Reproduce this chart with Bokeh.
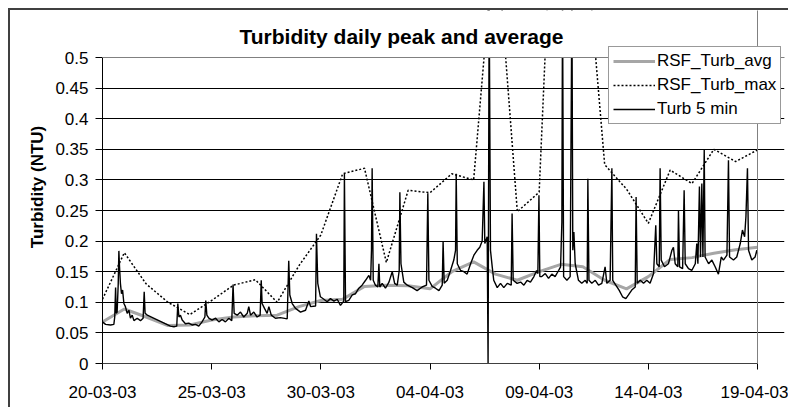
import datetime as dt
from bokeh.plotting import figure
from bokeh.models import (FixedTicker, DatetimeTickFormatter, Legend, LegendItem,
                          Range1d, ColumnDataSource, Grid, BoxAnnotation, Label)
from bokeh.embed import file_html
from bokeh.resources import INLINE

# ---------------- data ----------------
start_date = dt.datetime(2003, 3, 20)

# daily series: day offset from 20-03-03
daily_day = list(range(31))
avg_turb = [0.068, 0.089, 0.076, 0.062, 0.063, 0.071, 0.076, 0.078, 0.079, 0.093,
            0.103, 0.105, 0.126, 0.128, 0.127, 0.122, 0.150, 0.166, 0.146, 0.136,
            0.150, 0.162, 0.158, 0.136, 0.122, 0.142, 0.170, 0.173, 0.180, 0.186,
            0.190]
max_turb = [0.105, 0.181, 0.130, 0.100, 0.080, 0.103, 0.128, 0.137, 0.100, 0.160,
            0.210, 0.310, 0.319, 0.165, 0.283, 0.279, 0.310, 0.300, 0.720, 0.248,
            0.280, 1.100, 0.750, 0.325, 0.285, 0.229, 0.316, 0.294, 0.350, 0.330,
            0.349]

# 5-minute series (day offset, NTU), sampled from the trace
turb5_day = [
    0.00, 0.14, 0.37, 0.52, 0.56, 0.60, 0.63, 0.67, 0.72, 0.75, 0.78, 0.82, 0.87, 0.92,
    0.98, 1.05, 1.13, 1.21, 1.28, 1.36, 1.44, 1.59, 1.74, 1.86, 1.91, 1.95, 2.05,
    3.11, 3.27, 3.40, 3.45, 3.50, 3.57, 3.65, 3.80, 3.95, 4.10, 4.26, 4.41, 4.56,
    4.69, 4.73, 4.78, 4.87, 5.02, 5.18, 5.33, 5.48, 5.63, 5.79, 5.92, 5.98, 6.03,
    6.17, 6.32, 6.47, 6.63, 6.70, 6.78, 6.93, 7.08, 7.22, 7.27, 7.31, 7.42, 7.54,
    7.62, 7.73, 7.92, 8.15, 8.46, 8.53, 8.58, 8.69, 8.84, 9.07, 9.30, 9.45, 9.53,
    9.76, 9.80, 9.86, 9.98,
    10.14, 10.29, 10.44, 10.60, 10.75, 10.90, 11.05, 11.08, 11.13, 11.28, 11.44,
    11.59, 11.74, 11.89, 12.05, 12.20, 12.28, 12.32, 12.35, 12.40, 12.50, 12.61,
    12.66, 12.70, 12.81, 12.96, 13.12, 13.27, 13.38, 13.50, 13.59, 13.62, 13.67,
    13.80, 13.96, 14.19, 14.41, 14.64, 14.84, 14.90, 14.95, 15.10, 15.25, 15.41,
    15.56, 15.60, 15.65, 15.79, 15.94, 16.09, 16.17, 16.20, 16.25, 16.40, 16.55,
    16.70, 16.86, 17.01, 17.16, 17.28, 17.39, 17.47, 17.51, 17.62, 17.66, 17.71,
    17.77, 17.85, 17.92, 18.08, 18.23, 18.38, 18.54, 18.72, 18.76, 18.81, 18.99,
    19.15, 19.30, 19.45, 19.60, 19.76, 19.88, 19.94, 19.99, 20.03,
    20.12, 20.28, 20.43, 20.58, 20.73, 20.89, 20.98, 21.04, 21.07, 21.12, 21.27,
    21.42, 21.50, 21.54, 21.59, 21.65, 21.80, 21.95, 22.11, 22.20, 22.23, 22.28,
    22.41, 22.57, 22.72, 22.87, 23.02, 23.10, 23.25, 23.33, 23.37, 23.51, 23.66,
    23.82, 23.97, 24.09, 24.24, 24.40, 24.44, 24.49, 24.63, 24.78, 24.93, 25.08,
    25.24, 25.34, 25.39, 25.50, 25.54, 25.59, 25.74, 25.92, 26.08, 26.15, 26.23,
    26.35, 26.38, 26.43, 26.57, 26.64, 26.69, 26.84, 26.99, 27.15, 27.22, 27.27,
    27.34, 27.39, 27.45, 27.50, 27.56, 27.60, 27.76, 27.91, 28.06, 28.21, 28.34,
    28.44, 28.60, 28.67, 28.72, 28.90, 29.05, 29.21, 29.31, 29.41, 29.47, 29.54,
    29.59, 29.74, 29.89, 29.97, 30.00,
]
turb5_val = [
    0.068, 0.064, 0.063, 0.064, 0.076, 0.124, 0.082, 0.084, 0.130, 0.184, 0.158, 0.131, 0.114, 0.120,
    0.098, 0.093, 0.082, 0.087, 0.074, 0.079, 0.070, 0.074, 0.070, 0.074, 0.117, 0.082, 0.079,
    0.061, 0.060, 0.061, 0.098, 0.076, 0.079, 0.071, 0.065, 0.066, 0.063, 0.064, 0.061, 0.068,
    0.076, 0.103, 0.079, 0.074, 0.071, 0.074, 0.068, 0.072, 0.068, 0.074, 0.070, 0.129, 0.082,
    0.079, 0.084, 0.076, 0.082, 0.093, 0.079, 0.084, 0.076, 0.079, 0.136, 0.098, 0.090, 0.082,
    0.093, 0.079, 0.074, 0.075, 0.073, 0.168, 0.112, 0.098, 0.090, 0.084, 0.087, 0.102, 0.093,
    0.094, 0.212, 0.131, 0.109,
    0.105, 0.101, 0.106, 0.102, 0.105, 0.095, 0.102, 0.310, 0.101, 0.103, 0.112,
    0.114, 0.123, 0.128, 0.136, 0.144, 0.136, 0.185, 0.319, 0.136, 0.128, 0.125,
    0.163, 0.125, 0.131, 0.123, 0.133, 0.150, 0.131, 0.128, 0.152, 0.280, 0.163,
    0.133, 0.128, 0.124, 0.119, 0.125, 0.128, 0.278, 0.136, 0.126, 0.123, 0.119,
    0.128, 0.199, 0.131, 0.136, 0.152, 0.169, 0.185, 0.310, 0.163, 0.152, 0.150,
    0.146, 0.163, 0.177, 0.185, 0.190, 0.200, 0.297, 0.196, 0.207, 0.000, 0.600,
    0.185, 0.158, 0.136, 0.124, 0.131, 0.124, 0.131, 0.128, 0.245, 0.136, 0.131,
    0.133, 0.128, 0.136, 0.133, 0.142, 0.152, 0.147, 0.275, 0.142,
    0.142, 0.147, 0.139, 0.146, 0.142, 0.152, 0.158, 0.231, 0.600, 0.142, 0.136,
    0.142, 0.600, 0.185, 0.215, 0.163, 0.136, 0.131, 0.136, 0.131, 0.302, 0.136,
    0.131, 0.136, 0.128, 0.131, 0.158, 0.131, 0.136, 0.319, 0.136, 0.128, 0.120,
    0.109, 0.106, 0.112, 0.120, 0.125, 0.272, 0.131, 0.136, 0.131, 0.136, 0.131,
    0.147, 0.226, 0.163, 0.158, 0.319, 0.169, 0.158, 0.163, 0.185, 0.190, 0.163,
    0.158, 0.250, 0.158, 0.155, 0.283, 0.163, 0.155, 0.152, 0.163, 0.196, 0.163,
    0.289, 0.174, 0.294, 0.174, 0.349, 0.174, 0.163, 0.169, 0.158, 0.146, 0.174,
    0.169, 0.177, 0.332, 0.174, 0.169, 0.174, 0.196, 0.218, 0.207, 0.240, 0.319,
    0.185, 0.169, 0.174, 0.185, 0.180,
]

x_first_day, x_last_day = 0, 30
x_tick_days = [0, 5, 10, 15, 20, 25, 30]
y_ticks = [0, 0.05, 0.1, 0.15, 0.2, 0.25, 0.3, 0.35, 0.4, 0.45, 0.5]
y_tick_labels = ["0", "0.05", "0.1", "0.15", "0.2", "0.25", "0.3", "0.35", "0.4", "0.45", "0.5"]

title_text = "Turbidity daily peak and average"
y_label = "Turbidity (NTU)"
series_names = ["RSF_Turb_avg", "RSF_Turb_max", "Turb 5 min"]

# ---------------- layout constants (pixels) ----------------
FONT = "Liberation Sans"
W, H = 780, 399
BL, BR, BT, BB = 92, 6, 0, 46
PLOT_W, PLOT_H = 655, 306          # pixel size of the 0..30 day / 0..0.5 area
FRAME_W, FRAME_H = W - BL - BR, H - BT - BB
TITLE_CX, TITLE_BASE = 299, 327    # title centre / baseline, from plot-area bottom-left
LEG_X, LEG_Y = 506, 239            # legend bottom-left, from plot-area bottom-left

px_per_day = PLOT_W / (x_last_day - x_first_day)
px_per_unit = PLOT_H / (y_ticks[-1] - y_ticks[0])


def to_dates(days):
    return [start_date + dt.timedelta(days=d) for d in days]


def to_ms(d):
    return (start_date + dt.timedelta(days=d) - dt.datetime(1970, 1, 1)).total_seconds() * 1000.0


p = figure(width=W, height=H, output_backend="svg", toolbar_location=None, title=None,
           x_axis_type="datetime",
           x_range=Range1d(to_ms(x_first_day), to_ms(x_first_day + FRAME_W / px_per_day)),
           y_range=Range1d(y_ticks[0], y_ticks[0] + FRAME_H / px_per_unit),
           min_border_left=BL, min_border_right=BR, min_border_top=BT, min_border_bottom=BB)
p.styles = {"margin-left": "8px", "margin-top": "8px",
            "border-left": "2px solid #404040", "border-top": "2px solid #404040"}

src_avg = ColumnDataSource(dict(x=to_dates(daily_day), y=avg_turb))
src_max = ColumnDataSource(dict(x=to_dates(daily_day), y=max_turb))
src_5 = ColumnDataSource(dict(x=to_dates(turb5_day), y=turb5_val))

r_avg = p.line("x", "y", source=src_avg, line_color="#a6a6a6", line_width=3)
r_max = p.line("x", "y", source=src_max, line_color="black", line_width=1.5, line_dash="2 2")
r_5 = p.line("x", "y", source=src_5, line_color="black", line_width=1.4)

# axes
x_bounds = (to_ms(x_first_day), to_ms(x_last_day))
y_bounds = (y_ticks[0], y_ticks[-1])
p.xaxis.ticker = FixedTicker(ticks=[to_ms(d) for d in x_tick_days])
fmt = "%d-%m-%y"
p.xaxis.formatter = DatetimeTickFormatter(days=fmt, months=fmt, years=fmt, hours=fmt,
                                          hourmin=fmt, minutes=fmt, minsec=fmt,
                                          seconds=fmt, milliseconds=fmt, microseconds=fmt)
p.xaxis.bounds = x_bounds
p.yaxis.ticker = FixedTicker(ticks=y_ticks)
p.yaxis.major_label_overrides = dict(zip(y_ticks, y_tick_labels))
p.yaxis.bounds = y_bounds
p.yaxis.axis_label = y_label
p.yaxis.axis_label_text_font = FONT
p.yaxis.axis_label_text_font_size = "17px"
p.yaxis.axis_label_text_font_style = "bold"
p.yaxis.axis_label_text_color = "black"
p.yaxis.axis_label_standoff = 5

for ax in (p.xaxis[0], p.yaxis[0]):
    ax.major_label_text_font = FONT
    ax.major_label_text_font_size = "17px"
    ax.major_label_text_color = "black"
    ax.minor_tick_line_color = None
    ax.major_tick_in = 0
    ax.major_tick_line_color = "black"
p.yaxis.major_tick_out = 7
p.yaxis.major_label_standoff = 7
p.yaxis.axis_line_color = "black"
p.xaxis.major_tick_out = 6
p.xaxis.major_label_standoff = 16
p.xaxis.axis_line_color = "#404040"

# gridlines limited to the plot area
p.xgrid.grid_line_color = None
p.ygrid.ticker = FixedTicker(ticks=y_ticks[1:-1])
p.ygrid.grid_line_color = "black"
p.ygrid.grid_line_width = 1
p.ygrid.bounds = x_bounds
p.outline_line_color = None
p.background_fill_color = "white"
p.border_fill_color = "white"

# anything above the top of the value axis is hidden, as in the original
p.add_layout(BoxAnnotation(bottom=y_ticks[-1], fill_color="white", fill_alpha=1,
                           line_color=None))
# plot-area border (top and right), drawn on top
p.add_layout(Grid(dimension=1, ticker=FixedTicker(ticks=[y_ticks[-1]]), bounds=x_bounds,
                  grid_line_color="#808080", grid_line_width=1, level="overlay"))
p.add_layout(Grid(dimension=0, ticker=FixedTicker(ticks=[to_ms(x_last_day)]), bounds=y_bounds,
                  grid_line_color="#808080", grid_line_width=1, level="overlay"))

p.add_layout(Label(x=to_ms(x_first_day + TITLE_CX / px_per_day),
                   y=y_ticks[0] + TITLE_BASE / px_per_unit,
                   text=title_text, text_align="center", text_baseline="alphabetic",
                   text_font=FONT, text_font_size="21px", text_font_style="bold",
                   text_color="black"))

legend = Legend(items=[LegendItem(label=series_names[0], renderers=[r_avg]),
                       LegendItem(label=series_names[1], renderers=[r_max]),
                       LegendItem(label=series_names[2], renderers=[r_5])],
                location=(LEG_X, LEG_Y), level="overlay")
legend.label_text_font = FONT
legend.label_text_font_size = "17px"
legend.label_text_color = "black"
legend.glyph_width = 42
legend.glyph_height = 20
legend.label_height = 20
legend.label_standoff = 2
legend.label_width = 118
legend.spacing = 4
legend.padding = 4
legend.margin = 0
legend.border_line_color = "#333333"
legend.border_line_width = 1
legend.background_fill_color = "white"
legend.background_fill_alpha = 1
p.add_layout(legend)

open("out.html", "w").write(file_html(p, INLINE))
